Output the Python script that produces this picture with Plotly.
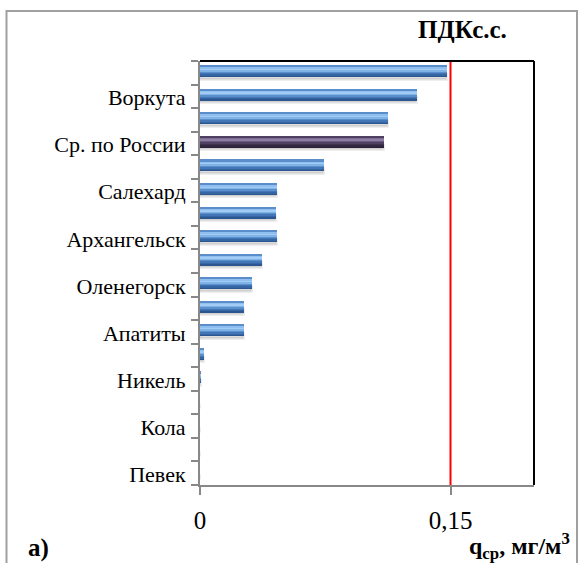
import plotly.graph_objects as go

# ---- data (bottom -> top) ----
categories = ["Певек", "", "Кола", "", "Никель", "", "Апатиты", "",
              "Оленегорск", "", "Архангельск", "", "Салехард", "",
              "Ср. по России", "", "Воркута", ""]
values = [0.0, 0.0, 0.0, 0.0, 0.0005, 0.0025, 0.0266, 0.0262,
          0.0313, 0.0371, 0.0462, 0.0458, 0.0460, 0.0744,
          0.1103, 0.1123, 0.1297, 0.1480]
highlight_category = "Ср. по России"
pdk_value = 0.15
x_tick_values = [0, 0.15]
x_tick_text = ["0", "0,15"]

pos = list(range(len(categories)))
is_hl = [c == highlight_category for c in categories]


def cols(blue, purple):
    return [purple if h else blue for h in is_hl]


FONT = "Liberation Serif"
fig = go.Figure()

# soft shadow under the bars
fig.add_trace(go.Bar(y=pos, x=values, orientation="h", width=0.20, offset=-0.29,
                     marker=dict(color="rgba(90,90,90,0.20)",
                                 line=dict(width=3, color="rgba(90,90,90,0.10)")),
                     hoverinfo="skip", showlegend=False))

# thin horizontal strips imitating the bevelled gradient (bottom -> top)
blue_strips = ["#2b568f", "#3566a3", "#4276b6", "#5a8fcc",
               "#80b3e6", "#a2ccf4", "#8fbef0", "#5b8dca"]
purple_strips = ["#2a1f38", "#33273f", "#3f3150", "#4f4064",
                 "#6a5b80", "#8c7ea3", "#7a6c92", "#4e3f63"]
strip_h = 0.06
start = -0.17
for i, (cb, cp) in enumerate(zip(blue_strips, purple_strips)):
    fig.add_trace(go.Bar(y=pos, x=values, orientation="h",
                         width=strip_h + 0.012, offset=start + i * strip_h,
                         marker=dict(color=cols(cb, cp), line=dict(width=0)),
                         hoverinfo="skip" if i else None,
                         showlegend=False))

label_pos = [p - 0.05 for p, c in zip(pos, categories) if c]
label_txt = [c for c in categories if c]

fig.update_layout(
    width=578, height=563,
    margin=dict(l=200, r=44, t=61, b=78),
    paper_bgcolor="white", plot_bgcolor="white",
    barmode="overlay", bargap=0,
    font=dict(family=FONT, color="black"),
    xaxis=dict(range=[0, 0.2], tickvals=x_tick_values, ticktext=x_tick_text,
               ticks="outside", ticklen=8, tickwidth=2, tickcolor="#888888",
               showline=True, linecolor="#888888", linewidth=2,
               showgrid=False, zeroline=False,
               tickfont=dict(family=FONT, size=25, color="black"),
               ticklabelstandoff=4),
    yaxis=dict(range=[-0.5, len(categories) - 0.5],
               tickvals=label_pos, ticktext=label_txt,
               ticks="outside", ticklen=7, tickcolor="rgba(0,0,0,0)",
               minor=dict(tick0=-0.5, dtick=1, ticks="outside", ticklen=7,
                          tickwidth=2, tickcolor="#888888", showgrid=False),
               showline=True, linecolor="#888888", linewidth=2,
               showgrid=False, zeroline=False,
               tickfont=dict(family=FONT, size=22, color="black"),
               ticklabelstandoff=1),
    shapes=[
        dict(type="line", xref="x", yref="paper", x0=pdk_value, x1=pdk_value,
             y0=0, y1=1, line=dict(color="red", width=2)),
        dict(type="line", xref="paper", yref="paper", x0=0, x1=1, y0=1, y1=1,
             line=dict(color="black", width=2)),
        dict(type="line", xref="paper", yref="paper", x0=1, x1=1, y0=0, y1=1,
             line=dict(color="black", width=2)),
        dict(type="rect", xref="paper", yref="paper",
             x0=(6.5 - 200) / 334, x1=(577 - 200) / 334,
             y0=(485 - 580) / 424, y1=(485 - 11) / 424,
             line=dict(color="#a0a0a0", width=2)),
    ],
    annotations=[
        dict(text="<b>ПДКс.с.</b>", xref="paper", yref="paper",
             x=(462 - 200) / 334, y=(485 - 30) / 424, showarrow=False,
             xanchor="center", yanchor="middle",
             font=dict(family=FONT, size=25, color="black")),
        dict(text="<b>а)</b>", xref="paper", yref="paper",
             x=(26 - 200) / 334, y=(485 - 548) / 424, showarrow=False,
             xanchor="left", yanchor="middle",
             font=dict(family=FONT, size=25, color="black")),
        dict(text="<b>q<sub>ср</sub>, мг/м<sup>3</sup></b>", xref="paper", yref="paper",
             x=(572 - 200) / 334, y=(485 - 546) / 424, showarrow=False,
             xanchor="right", yanchor="middle",
             font=dict(family=FONT, size=24, color="black")),
    ],
)

fig.write_html("out.html", config={"displayModeBar": False},
               post_script="document.body.style.margin='0';")
